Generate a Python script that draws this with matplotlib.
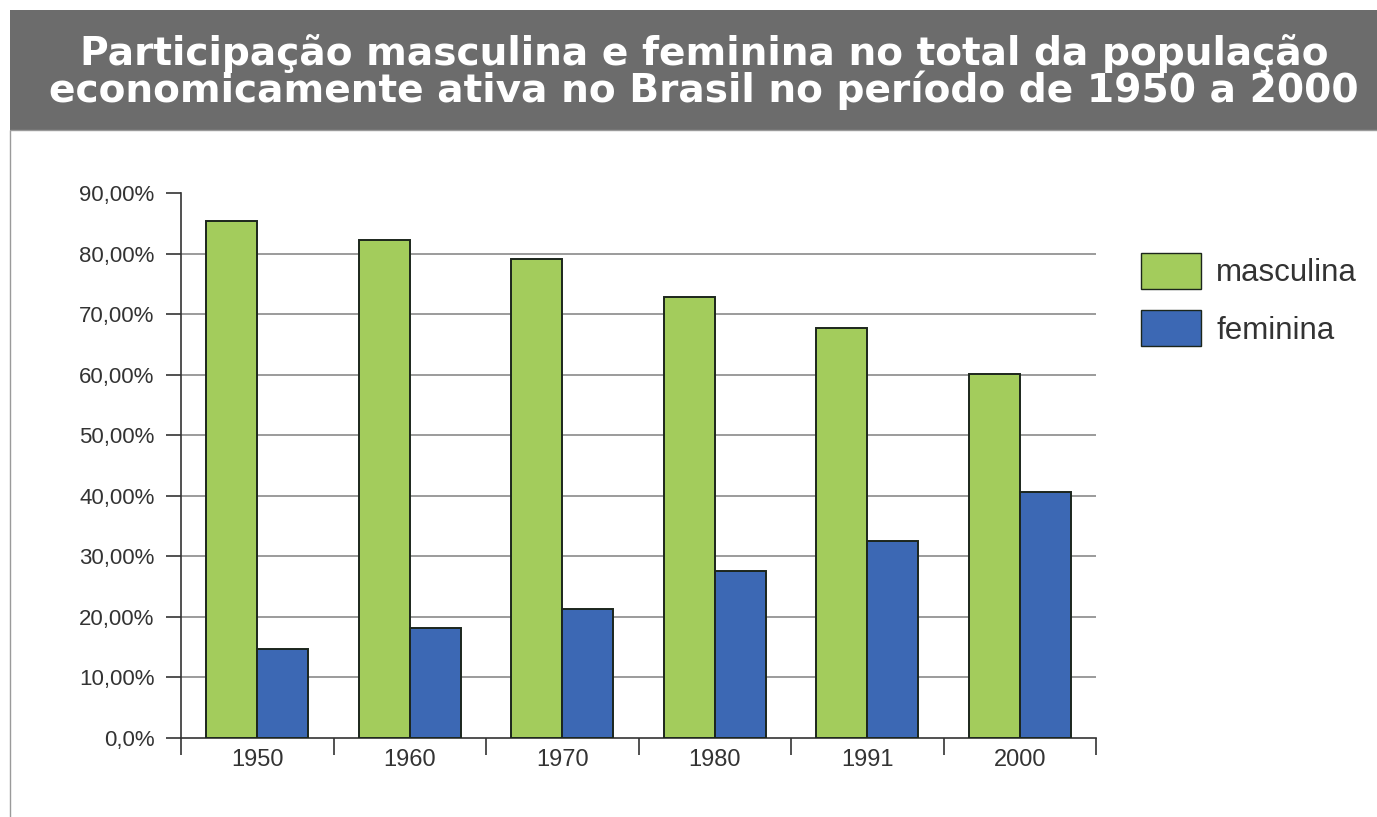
import matplotlib.pyplot as plt
from matplotlib.patches import Rectangle, Patch
import numpy as np

# Data
anos = ["1950", "1960", "1970", "1980", "1991", "2000"]
masculina = [85.4, 82.2, 79.1, 72.8, 67.7, 60.1]
feminina = [14.7, 18.2, 21.3, 27.6, 32.5, 40.6]
ytick_vals = [0, 10, 20, 30, 40, 50, 60, 70, 80, 90]
ytick_labels = ["0,0%", "10,00%", "20,00%", "30,00%", "40,00%", "50,00%",
                "60,00%", "70,00%", "80,00%", "90,00%"]

verde = "#a3cc5c"
azul = "#3c68b4"
borda = "#1c261c"

W, H = 1377, 817
fig = plt.figure(figsize=(W / 100, H / 100), dpi=100)
fig.patch.set_facecolor("white")

# banner with title
fig.patches.append(Rectangle((10 / W, 1 - 130 / H), 1 - 10 / W, 120 / H,
                             transform=fig.transFigure, facecolor="#6c6c6c",
                             edgecolor="none", zorder=0))
# thin frame below banner
fig.patches.append(Rectangle((10 / W, -0.01), 1.0, 1 - 130 / H + 0.01,
                             transform=fig.transFigure, facecolor="none",
                             edgecolor="#9a9a9a", linewidth=1.0, zorder=0))
fig.text(704 / W, 1 - 72 / H,
         "Participação masculina e feminina no total da população\n"
         "economicamente ativa no Brasil no período de 1950 a 2000",
         ha="center", va="center", color="white", fontsize=28.2,
         fontfamily="DejaVu Sans", fontweight="bold", linespacing=0.92)

ax = fig.add_axes([181 / W, 1 - 738 / H, (1096 - 181) / W, (738 - 193) / H])
x = np.arange(len(anos))
w = 0.333
ax.bar(x - w / 2, masculina, w, color=verde, edgecolor=borda, linewidth=1.4,
       label="masculina", zorder=3)
ax.bar(x + w / 2, feminina, w, color=azul, edgecolor=borda, linewidth=1.4,
       label="feminina", zorder=3)

ax.set_xlim(-0.5, len(anos) - 0.5)
ax.set_ylim(0, 90)

ax.set_yticks(ytick_vals)
ax.set_yticklabels(ytick_labels)
ax.set_xticks(x)
ax.set_xticklabels(anos)
ax.set_xticks(np.arange(len(anos) + 1) - 0.5, minor=True)

ax.tick_params(axis="y", length=11, width=1.2, color="#333333", pad=8,
               labelsize=16, labelcolor="#333333")
ax.tick_params(axis="x", which="major", length=0, pad=8,
               labelsize=17, labelcolor="#333333")
ax.tick_params(axis="x", which="minor", length=12, width=1.2, color="#333333")
for lab in ax.get_xticklabels() + ax.get_yticklabels():
    lab.set_fontfamily("Liberation Sans")

for val in ytick_vals[1:-1]:
    ax.axhline(val, color="#8a8a8a", linewidth=1.2, zorder=1)

for s in ["top", "right"]:
    ax.spines[s].set_visible(False)
for s in ["left", "bottom"]:
    ax.spines[s].set_color("#333333")
    ax.spines[s].set_linewidth(1.2)

handles = [Patch(facecolor=verde, edgecolor=borda, label="masculina"),
           Patch(facecolor=azul, edgecolor=borda, label="feminina")]
leg = fig.legend(handles=handles, loc="upper left",
                 bbox_to_anchor=(1113 / W, 1 - 225 / H), frameon=False,
                 handlelength=1.92, handleheight=1.39, handletextpad=0.48,
                 labelspacing=0.68, prop={"family": "Liberation Sans", "size": 22.5})
for t in leg.get_texts():
    t.set_color("#333333")

fig.savefig("out.png", dpi=100)
